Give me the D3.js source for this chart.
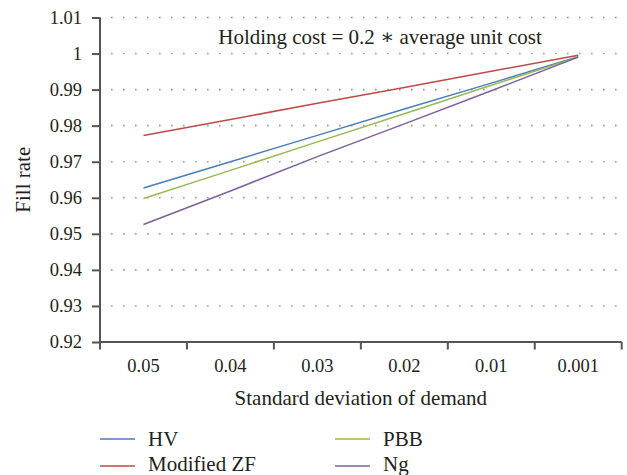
<!DOCTYPE html>
<html>
<head>
<meta charset="utf-8">
<script src="https://cdn.jsdelivr.net/npm/d3@7"></script>
<style>
  body { margin: 0; background: #fff; }
  svg { display: block; }
  svg text { font-family: "Liberation Serif", "DejaVu Serif", serif !important; fill: #231f20; }
</style>
</head>
<body>
<svg id="chart" width="627" height="475"></svg>
<script>
const categories = ["0.05", "0.04", "0.03", "0.02", "0.01", "0.001"];
const seriesNames = ["HV", "Modified ZF", "PBB", "Ng"];
const hvValues   = [0.9627, 0.9700, 0.9773, 0.9846, 0.9918, 0.9991];
const zfValues   = [0.9773, 0.9817, 0.9862, 0.9906, 0.9951, 0.9995];
const pbbValues  = [0.9598, 0.9676, 0.9755, 0.9833, 0.9912, 0.9990];
const ngValues   = [0.9526, 0.9619, 0.9714, 0.9805, 0.9897, 0.9990];
const yTicks = [0.92, 0.93, 0.94, 0.95, 0.96, 0.97, 0.98, 0.99, 1.00, 1.01];
const yTickLabels = ["0.92", "0.93", "0.94", "0.95", "0.96", "0.97", "0.98", "0.99", "1", "1.01"];
const colors = ["#4a7ebb", "#be4b48", "#98b954", "#7d60a0"];
const titleText = "Holding cost = 0.2 \u2217 average unit cost";
const xTitle = "Standard deviation of demand";
const yTitle = "Fill rate";

const series = [
  { name: seriesNames[0], values: hvValues, color: colors[0] },
  { name: seriesNames[1], values: zfValues, color: colors[1] },
  { name: seriesNames[2], values: pbbValues, color: colors[2] },
  { name: seriesNames[3], values: ngValues, color: colors[3] }
];

const FONT = "'Liberation Serif', 'DejaVu Serif', serif";
const svg = d3.select("#chart").attr("font-family", FONT);
const mLeft = 100, mRight = 621.7, mTop = 17.5, mBottom = 342;

const x = d3.scaleBand().domain(categories).range([mLeft, mRight]).padding(0);
const y = d3.scaleLinear().domain([0.92, 1.01]).range([mBottom, mTop]);

// gridlines (dotted)
svg.append("g").selectAll("line")
  .data(yTicks.filter(d => d > 0.92))
  .join("line")
  .attr("x1", mLeft + 11).attr("x2", mRight)
  .attr("y1", d => y(d)).attr("y2", d => y(d))
  .attr("stroke", "#9a9a9a")
  .attr("stroke-width", 1.6)
  .attr("stroke-dasharray", "1.6,10.4");

// y axis
const yAxis = svg.append("g")
  .attr("transform", `translate(${mLeft},0)`)
  .call(d3.axisLeft(y).tickValues(yTicks).tickFormat((d, i) => yTickLabels[i]).tickSize(8).tickPadding(10));
yAxis.attr("font-family", FONT).attr("font-size", 18.5);
yAxis.select(".domain").attr("stroke", "#555").attr("stroke-width", 2).attr("d", `M0,${mTop}V${mBottom}`);
yAxis.selectAll(".tick line").attr("stroke", "#555").attr("stroke-width", 2);
yAxis.selectAll(".tick text").attr("fill", "#231f20");

// x axis
const xAxis = svg.append("g")
  .attr("transform", `translate(0,${mBottom})`)
  .call(d3.axisBottom(x).tickSize(0).tickPadding(17));
xAxis.attr("font-family", FONT).attr("font-size", 18.5);
xAxis.select(".domain").attr("stroke", "#555").attr("stroke-width", 2).attr("d", `M${mLeft},0H${mRight}`);
xAxis.selectAll(".tick text").attr("fill", "#231f20");
// boundary tick marks between categories
const bounds = categories.map(c => x(c)).concat([mRight]);
xAxis.append("g").selectAll("line").data(bounds).join("line")
  .attr("x1", d => d).attr("x2", d => d).attr("y1", 0).attr("y2", 7.5)
  .attr("stroke", "#555").attr("stroke-width", 2);

// lines
const line = d3.line()
  .x((d, i) => x(categories[i]) + x.bandwidth() / 2)
  .y(d => y(d));
svg.append("g").selectAll("path").data(series).join("path")
  .attr("d", d => line(d.values))
  .attr("fill", "none")
  .attr("stroke", d => d.color)
  .attr("stroke-width", 1.5);

// title
svg.append("text").attr("x", 380).attr("y", 44).attr("text-anchor", "middle")
  .attr("font-size", 21).text(titleText);

// axis titles
svg.append("text").attr("x", (mLeft + mRight) / 2).attr("y", 405).attr("text-anchor", "middle")
  .attr("font-size", 21).text(xTitle);
svg.append("text").attr("transform", `translate(30,${(mTop + mBottom) / 2}) rotate(-90)`)
  .attr("text-anchor", "middle").attr("font-size", 21).text(yTitle);

// legend
const legendPos = [
  { lx: 100, ly: 439, ty: 446 },
  { lx: 100, ly: 466, ty: 470.5 },
  { lx: 335, ly: 439, ty: 446 },
  { lx: 335, ly: 466, ty: 470.5 }
];
const lg = svg.append("g").selectAll("g").data(series).join("g");
lg.append("line")
  .attr("x1", (d, i) => legendPos[i].lx).attr("x2", (d, i) => legendPos[i].lx + 35)
  .attr("y1", (d, i) => legendPos[i].ly).attr("y2", (d, i) => legendPos[i].ly)
  .attr("stroke", d => d.color).attr("stroke-width", 1.5);
lg.append("text")
  .attr("x", (d, i) => legendPos[i].lx + 48).attr("y", (d, i) => legendPos[i].ty)
  .attr("font-size", 21).text(d => d.name);
</script>
</body>
</html>
